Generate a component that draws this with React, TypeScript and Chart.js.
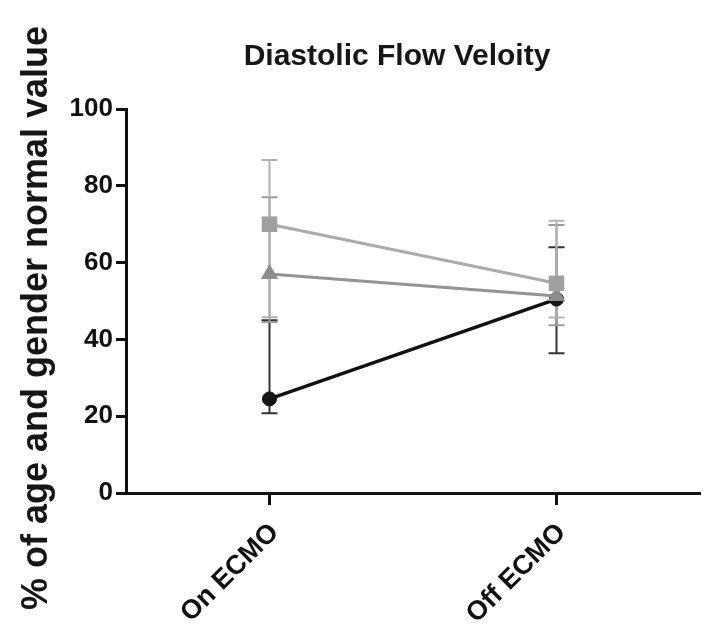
import React, { useEffect, useRef } from 'react';
import { Chart, registerables } from 'chart.js';

Chart.register(...registerables);

const categories = ['On ECMO', 'Off ECMO'];
const yMin = 0;
const yMax = 100;
const yStep = 20;

const squareMean = [70.0, 54.6];
const squareLow = [45.8, 45.7];
const squareHigh = [86.7, 70.9];

const triangleMean = [57.0, 51.3];
const triangleLow = [44.5, 43.7];
const triangleHigh = [77.0, 69.8];

const circleMean = [24.5, 50.5];
const circleLow = [20.8, 36.4];
const circleHigh = [45.0, 64.0];

const chartTitle = 'Diastolic Flow Veloity';
const yAxisTitle = '% of age and gender normal value';

const FONT = '"Liberation Sans", Arial, Helvetica, sans-serif';

const errorBarPlugin = {
  id: 'errorBars',
  beforeDatasetsDraw(chart: any) {
    const { ctx, scales } = chart;
    const x = scales.x;
    const y = scales.y;
    const sets = [
      { low: circleLow, high: circleHigh, color: '#333333' },
      { low: triangleLow, high: triangleHigh, color: '#9a9a9a' },
      { low: squareLow, high: squareHigh, color: '#b2b2b2' },
    ];
    ctx.save();
    sets.forEach((s) => {
      categories.forEach((_, i) => {
        const px = x.getPixelForValue(i);
        const pl = y.getPixelForValue(s.low[i]);
        const ph = y.getPixelForValue(s.high[i]);
        ctx.strokeStyle = s.color;
        ctx.lineWidth = 2;
        ctx.beginPath();
        ctx.moveTo(px, pl);
        ctx.lineTo(px, ph);
        ctx.moveTo(px - 8, pl);
        ctx.lineTo(px + 8, pl);
        ctx.moveTo(px - 8, ph);
        ctx.lineTo(px + 8, ph);
        ctx.stroke();
      });
    });
    ctx.restore();
  },
};

const titlesPlugin = {
  id: 'titles',
  afterDraw(chart: any) {
    const { ctx } = chart;
    ctx.save();
    ctx.fillStyle = '#161616';
    ctx.font = `bold 30px ${FONT}`;
    ctx.textAlign = 'center';
    ctx.textBaseline = 'alphabetic';
    ctx.fillText(chartTitle, 397, 65);

    ctx.translate(47, 318);
    ctx.rotate(-Math.PI / 2);
    ctx.font = `bold 36px ${FONT}`;
    ctx.textAlign = 'center';
    ctx.textBaseline = 'alphabetic';
    ctx.fillText(yAxisTitle, 0, 0);
    ctx.restore();
  },
};

export default function App() {
  const ref = useRef<HTMLCanvasElement | null>(null);

  useEffect(() => {
    if (!ref.current) return;
    const chart = new Chart(ref.current, {
      type: 'line',
      data: {
        labels: categories,
        datasets: [
          {
            label: 'Square',
            data: squareMean,
            borderColor: '#ababab',
            backgroundColor: '#a0a0a0',
            borderWidth: 3,
            pointStyle: 'rect',
            pointRadius: 11,
            pointBorderWidth: 0,
            pointBackgroundColor: '#a0a0a0',
            tension: 0,
            clip: false as any,
          },
          {
            label: 'Triangle',
            data: triangleMean,
            borderColor: '#939393',
            backgroundColor: '#8c8c8c',
            borderWidth: 3,
            pointStyle: 'triangle',
            pointRadius: 10,
            pointBorderWidth: 0,
            pointBackgroundColor: '#8c8c8c',
            tension: 0,
            clip: false as any,
          },
          {
            label: 'Circle',
            data: circleMean,
            borderColor: '#111111',
            backgroundColor: '#151515',
            borderWidth: 3.5,
            pointStyle: 'circle',
            pointRadius: 7,
            pointBorderWidth: 1,
            pointBorderColor: '#111111',
            pointBackgroundColor: '#151515',
            tension: 0,
            clip: false as any,
          },
        ],
      },
      options: {
        animation: false,
        responsive: false,
        devicePixelRatio: 1,
        layout: { autoPadding: false, padding: { top: 109, right: 4, left: 0, bottom: 0 } },
        plugins: {
          legend: { display: false },
          title: { display: false },
          tooltip: { enabled: false },
        },
        scales: {
          x: {
            type: 'category',
            offset: true,
            grid: {
              display: true,
              drawOnChartArea: false,
              drawTicks: true,
              tickLength: 12,
              tickWidth: 3,
              tickColor: '#111111',
            },
            border: { display: true, color: '#111111', width: 3 },
            ticks: {
              minRotation: 45,
              maxRotation: 45,
              padding: 12,
              labelOffset: 5,
              color: '#111111',
              font: { size: 27, weight: 'bold', family: FONT },
            },
            afterFit(scale: any) {
              scale.height = 142;
            },
          },
          y: {
            min: yMin,
            max: yMax,
            grid: {
              display: true,
              drawOnChartArea: false,
              drawTicks: true,
              tickLength: 10,
              tickWidth: 3,
              tickColor: '#111111',
            },
            border: { display: true, color: '#111111', width: 3 },
            ticks: {
              stepSize: yStep,
              padding: 3,
              color: '#111111',
              font: { size: 26, weight: 'bold', family: FONT },
            },
            afterFit(scale: any) {
              scale.width = 126;
            },
          },
        },
      },
      plugins: [errorBarPlugin, titlesPlugin],
    });
    return () => chart.destroy();
  }, []);

  return (
    <canvas
      ref={ref}
      width={704}
      height={635}
      style={{ position: 'absolute', left: 0, top: 0, width: 704, height: 635, display: 'block', background: '#ffffff' }}
    />
  );
}
